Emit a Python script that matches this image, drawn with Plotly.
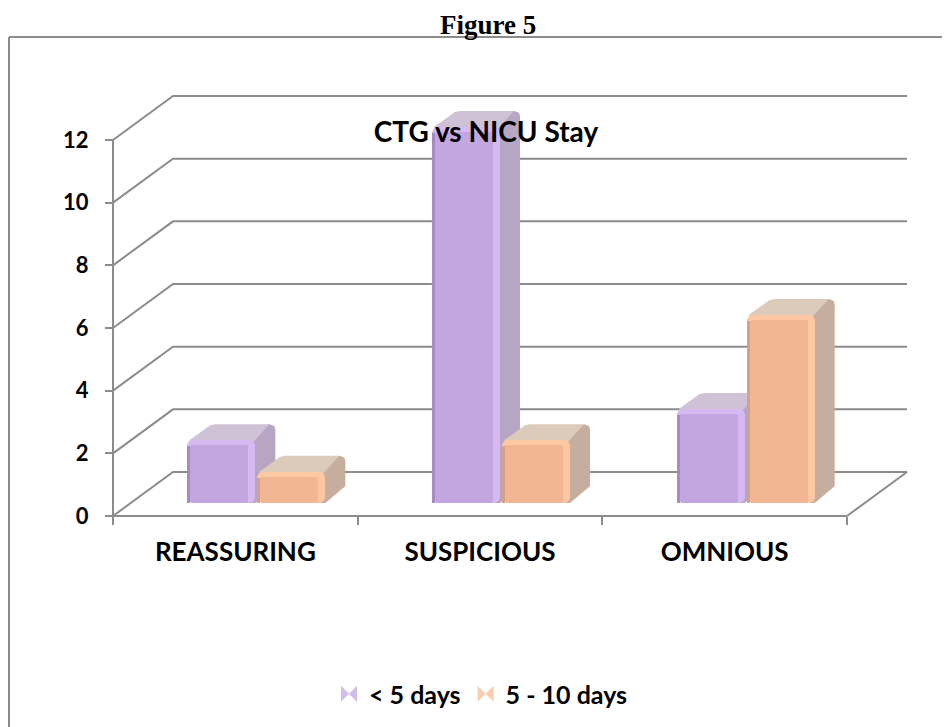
import plotly.graph_objects as go

categories = ["REASSURING", "SUSPICIOUS", "OMNIOUS"]
under_5_days = [2, 12, 3]
days_5_to_10 = [1, 2, 6]
y_ticks = [0, 2, 4, 6, 8, 10, 12]

PAGE = 8                                 # default page margin round the figure
W, H = 950 - PAGE, 727 - PAGE
L, R, T, B = 113 - PAGE, 847 - PAGE, 140 - PAGE, 516 - PAGE   # front plane box
PX = (R - L) / 3                         # px per category
PY = (B - T) / 12                        # px per value unit
WALL_DX, WALL_DY = 60 / PX, 44 / PY      # depth of the chart box
BAR_DX, BAR_DY = 20 / PX, 16 / PY        # depth of a bar
BAR_W = 68 / PX
BAR_BASE = 13 / PY
SHIFT = 21 / PX
GRID = "#8c8c8c"
FONT = "Lato"
X_RANGE = [-L / PX, (W - L) / PX]
Y_RANGE = [-(H - B) / PY, B / PY]

fig = go.Figure()

# chart box: grid lines along wall and floor, and the two front axis lines
for v in y_ticks:
    xs = [0, WALL_DX, 3 + WALL_DX]
    ys = [v, v + WALL_DY, v + WALL_DY]
    if v == 0:
        xs.append(3)
        ys.append(0)
    fig.add_trace(go.Scatter(x=xs, y=ys, mode="lines", line=dict(color=GRID, width=2),
                             showlegend=False, hoverinfo="skip"))
fig.add_trace(go.Scatter(x=[0, 0, 3], y=[max(y_ticks), 0, 0], mode="lines",
                         line=dict(color=GRID, width=2), showlegend=False, hoverinfo="skip"))


def add_series(values, side, colors, depth_axes, front_axes):
    c_front, c_dark, c_light, c_top, c_side = colors
    centers = [i + 0.5 + SHIFT + side * (35 / PX) for i in range(len(values))]
    bases = [BAR_BASE] * len(values)
    depth = dict(xaxis=depth_axes[0], yaxis=depth_axes[1], showlegend=False, hoverinfo="skip")
    front = dict(xaxis=front_axes[0], yaxis=front_axes[1], showlegend=False, hoverinfo="skip")
    px, py = 1 / PX, 1 / PY

    # top and side faces, tucked under the rounded corners of the front face
    for c, v in zip(centers, values):
        x0, x1 = c - BAR_W / 2, c + BAR_W / 2
        yb, yt = BAR_BASE, BAR_BASE + v
        top_x = [x0 + 8 * px, x0 + 2 * px, x0 + BAR_DX + 3 * px, x0 + BAR_DX + 8 * px,
                 x1 + BAR_DX - 6 * px, x1 + BAR_DX - 1 * px, x1 + BAR_DX, x1 - 6 * px]
        top_y = [yt - 6 * py, yt, yt + BAR_DY - 1 * py, yt + BAR_DY, yt + BAR_DY,
                 yt + BAR_DY - 2 * py, yt + BAR_DY - 6 * py, yt - 6 * py]
        fig.add_trace(go.Scatter(x=top_x, y=top_y, mode="lines", fill="toself",
                                 fillcolor=c_top, line=dict(width=0), **depth))
        side_x = [x1 - 6 * px, x1 + BAR_DX - 6 * px, x1 + BAR_DX - 1 * px, x1 + BAR_DX,
                  x1 + BAR_DX, x1 + BAR_DX - 1 * px, x1, x1 - 6 * px]
        side_y = [yt - 6 * py, yt + BAR_DY, yt + BAR_DY - 2 * py, yt + BAR_DY - 6 * py,
                  yb + BAR_DY + 1 * py, yb + BAR_DY, yb, yb]
        fig.add_trace(go.Scatter(x=side_x, y=side_y, mode="lines", fill="toself",
                                 fillcolor=c_side, line=dict(width=0), **depth))

    # front face in layers: bright rim, dark left edge, body
    fig.add_trace(go.Bar(x=centers, y=values, base=bases, width=BAR_W,
                         marker=dict(color=c_light, line=dict(width=0), cornerradius=6), **front))
    fig.add_trace(go.Bar(x=[c - BAR_W / 2 + 1.5 * px for c in centers],
                         y=[v - 6 * py for v in values], base=bases, width=3 * px,
                         marker=dict(color=c_dark, line=dict(width=0)), **front))
    fig.add_trace(go.Bar(x=[c - 2 * px for c in centers],
                         y=[v - 5 * py for v in values], base=bases,
                         width=BAR_W - 10 * px,
                         marker=dict(color=c_front, line=dict(width=0), cornerradius=3), **front))


PURPLE = ("#c3a6df", "#a88bc4", "#d6b9f1", "#cfc2d6", "#b6a6c3")
ORANGE = ("#f2b695", "#d4a284", "#fdc7a4", "#dccabb", "#c6ae9e")
add_series(under_5_days, -1, PURPLE, ("x2", "y2"), ("x3", "y3"))
add_series(days_5_to_10, 1, ORANGE, ("x4", "y4"), ("x5", "y5"))

# legend entries
for name, col in (("< 5 days", "#d3bdee"), ("5 - 10 days", "#fbcdb0")):
    fig.add_trace(go.Scatter(x=[None], y=[None], mode="markers", name=name,
                             marker=dict(symbol="bowtie", size=20, color=col)))

axis_font = dict(family=FONT, size=26, color="black", weight=700)


def px_x(p):
    return (p - PAGE) / W


def px_y(p):
    return 1 - (p - PAGE) / H


overlays = {}
for n in (2, 3, 4, 5):
    overlays[f"xaxis{n}"] = dict(overlaying="x", range=X_RANGE, visible=False)
    overlays[f"yaxis{n}"] = dict(overlaying="y", range=Y_RANGE, visible=False)

fig.update_layout(
    width=W, height=H, paper_bgcolor="white", plot_bgcolor="white",
    margin=dict(l=0, r=0, t=0, b=0, autoexpand=False),
    barmode="overlay", bargap=0,
    title=dict(text="CTG vs NICU Stay", xref="paper", yref="paper",
               x=px_x(486), y=px_y(132), xanchor="center", yanchor="middle",
               font=dict(family=FONT, size=28, color="black", weight=700)),
    xaxis=dict(range=X_RANGE, showgrid=False, zeroline=False, showline=False,
               anchor="free", position=(H - B) / H, tickmode="array",
               tickvals=[i + 0.5 for i in range(len(categories))], ticktext=categories,
               ticks="", ticklabelstandoff=18, tickfont=axis_font,
               minor=dict(tickmode="array", tickvals=[0, 1, 2, 3], ticks="outside",
                          ticklen=8, tickwidth=2, tickcolor=GRID, showgrid=False)),
    yaxis=dict(range=Y_RANGE, showgrid=False, zeroline=False, showline=False,
               anchor="free", position=L / W, tickmode="array", tickvals=y_ticks,
               ticks="outside", ticklen=8, tickwidth=2, tickcolor=GRID,
               ticklabelstandoff=12, tickfont=dict(family=FONT, size=22, color="black", weight=700)),
    legend=dict(orientation="h", x=px_x(329), y=px_y(694), xanchor="left", yanchor="middle",
                font=dict(family=FONT, size=25, color="black", weight=700),
                itemwidth=30, tracegroupgap=0, bgcolor="rgba(0,0,0,0)"),
    annotations=[dict(text="Figure 5", xref="paper", yref="paper", x=px_x(488), y=px_y(25),
                      xanchor="center", yanchor="middle", showarrow=False,
                      font=dict(family="Liberation Serif", size=27, color="black", weight=700))],
    shapes=[dict(type="line", xref="paper", yref="paper", x0=px_x(9), x1=px_x(9),
                 y0=px_y(37), y1=0, line=dict(color=GRID, width=2)),
            dict(type="line", xref="paper", yref="paper", x0=px_x(9), x1=1,
                 y0=px_y(37), y1=px_y(37), line=dict(color=GRID, width=2))],
    **overlays,
)

fig.write_html("out.html")
